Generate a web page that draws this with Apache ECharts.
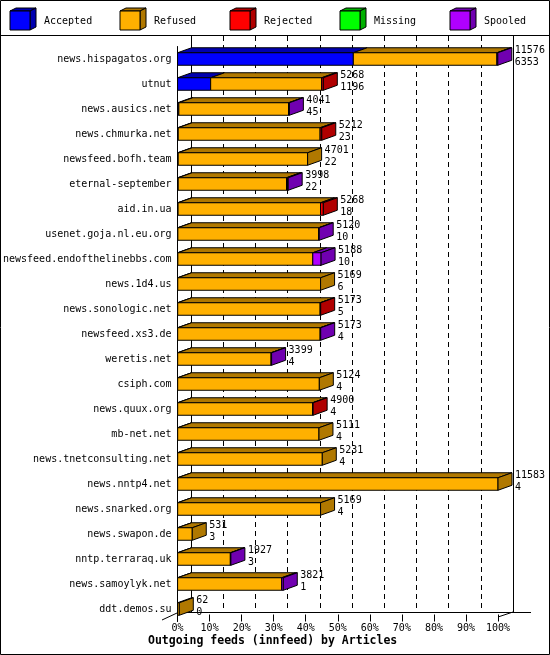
<!DOCTYPE html>
<html>
<head>
<meta charset="utf-8">
<script src="https://cdn.jsdelivr.net/npm/echarts@6/dist/echarts.min.js"></script>
<style>
  html, body { margin: 0; padding: 0; background: #fff; }
  #chart { width: 550px; height: 655px; }
</style>
</head>
<body>
<div id="chart"></div>
<script>
// innfeed outgoing feeds, articles per peer
const hosts = [
  'news.hispagatos.org', 'utnut', 'news.ausics.net', 'news.chmurka.net',
  'newsfeed.bofh.team', 'eternal-september', 'aid.in.ua', 'usenet.goja.nl.eu.org',
  'newsfeed.endofthelinebbs.com', 'news.1d4.us', 'news.sonologic.net', 'newsfeed.xs3.de',
  'weretis.net', 'csiph.com', 'news.quux.org', 'mb-net.net',
  'news.tnetconsulting.net', 'news.nntp4.net', 'news.snarked.org', 'news.swapon.de',
  'nntp.terraraq.uk', 'news.samoylyk.net', 'ddt.demos.su'
];
const totals   = [11576, 5268, 4041, 5212, 4701, 3998, 5268, 5120, 5188, 5169, 5173, 5173,
                  3399, 5124, 4900, 5111, 5231, 11583, 5169, 531, 1927, 3821, 62];
const accepted = [6353, 1196, 45, 23, 22, 22, 18, 10, 10, 6, 5, 4,
                  4, 4, 4, 4, 4, 4, 4, 3, 3, 1, 0];
const refused  = [5190, 4012, 3966, 5129, 4679, 3916, 5150, 5090, 4878, 5163, 5148, 5149,
                  3375, 5120, 4876, 5107, 5227, 11579, 5165, 528, 1904, 3760, 62];
const rejected = [0, 60, 0, 60, 0, 40, 100, 0, 0, 0, 20, 0,
                  0, 0, 20, 0, 0, 0, 0, 0, 0, 0, 0];
const missing  = [0, 0, 0, 0, 0, 0, 0, 0, 0, 0, 0, 0,
                  0, 0, 0, 0, 0, 0, 0, 0, 0, 0, 0];
const spooled  = [33, 0, 30, 0, 0, 20, 0, 20, 300, 0, 0, 20,
                  20, 0, 0, 0, 0, 0, 0, 0, 20, 60, 0];
const tickLabels = ['0%', '10%', '20%', '30%', '40%', '50%', '60%', '70%', '80%', '90%', '100%'];

const seriesNames = ['Accepted', 'Refused', 'Rejected', 'Missing', 'Spooled'];
const frontColors = ['#0000ff', '#ffb000', '#ff0000', '#00ff00', '#b000ff'];
const darkColors  = ['#0000b0', '#b07800', '#b00000', '#00b000', '#7000b0'];

const FONT = '"DejaVu Sans Mono", monospace';
const DX = 14, DY = 5;
const chart = echarts.init(document.getElementById('chart'));

const segs = [accepted, refused, rejected, missing, spooled];
const maxTotal = Math.max(...totals);

// one data list per segment type: [row, startPct, endPct, isLast]
function buildSegments() {
  const out = segs.map(() => []);
  hosts.forEach((h, row) => {
    let lastIdx = -1;
    segs.forEach((arr, s) => { if (arr[row] > 0) lastIdx = s; });
    let acc = 0;
    segs.forEach((arr, s) => {
      const v = arr[row];
      if (v > 0) {
        out[s].push([row, acc / maxTotal * 100, (acc + v) / maxTotal * 100, s === lastIdx ? 1 : 0]);
      }
      acc += v;
    });
  });
  return out;
}

function barRenderer(s) {
  return function (params, api) {
    const row = api.value(0);
    const p0 = api.coord([api.value(1), row]);
    const p1 = api.coord([api.value(2), row]);
    const h = api.size([0, 1])[1] * 0.5;
    const x0 = p0[0], x1 = p1[0], y0 = p0[1] - h / 2, y1 = p0[1] + h / 2;
    const line = { stroke: '#000', lineWidth: 1 };
    const children = [
      { type: 'polygon', shape: { points: [[x0, y0], [x1, y0], [x1 + DX, y0 - DY], [x0 + DX, y0 - DY]] },
        style: Object.assign({ fill: darkColors[s] }, line) },
      { type: 'rect', shape: { x: x0, y: y0, width: x1 - x0, height: h },
        style: Object.assign({ fill: frontColors[s] }, line) }
    ];
    if (api.value(3) === 1) {
      children.push({ type: 'polygon',
        shape: { points: [[x1, y0], [x1 + DX, y0 - DY], [x1 + DX, y1 - DY], [x1, y1]] },
        style: Object.assign({ fill: darkColors[s] }, line) });
    }
    return { type: 'group', children: children };
  };
}

const segData = buildSegments();
const series = seriesNames.map((name, s) => ({
  name: name,
  type: 'custom',
  xAxisIndex: 0,
  yAxisIndex: 0,
  renderItem: barRenderer(s),
  data: segData[s],
  z: 3
}));

series.push({
  name: 'labels',
  type: 'custom',
  xAxisIndex: 0,
  yAxisIndex: 0,
  z: 4,
  data: hosts.map((h, row) => [row, totals[row] / maxTotal * 100, totals[row], accepted[row]]),
  renderItem: function (params, api) {
    const p = api.coord([api.value(1), api.value(0)]);
    return {
      type: 'text',
      style: {
        text: api.value(2) + '\n' + api.value(3),
        x: p[0] + DX + 3,
        y: p[1] - 3,
        fill: '#000',
        font: '10px ' + FONT,
        lineHeight: 12,
        verticalAlign: 'middle',
        align: 'left'
      }
    };
  }
});

// legend drawn as small cubes
const legendItems = [];
seriesNames.forEach((name, i) => {
  const x = 10 + 110 * i, y = 11, w = 20, hh = 19, dx = 6, dy = 3;
  legendItems.push(
    { type: 'polygon', shape: { points: [[x, y], [x + w, y], [x + w + dx, y - dy], [x + dx, y - dy]] },
      style: { fill: darkColors[i], stroke: '#000', lineWidth: 1 } },
    { type: 'polygon', shape: { points: [[x + w, y], [x + w + dx, y - dy], [x + w + dx, y + hh - dy], [x + w, y + hh]] },
      style: { fill: darkColors[i], stroke: '#000', lineWidth: 1 } },
    { type: 'rect', shape: { x: x, y: y, width: w, height: hh },
      style: { fill: frontColors[i], stroke: '#000', lineWidth: 1 } },
    { type: 'text', x: x + 34, y: 21,
      style: { text: name, fill: '#000', font: '10px ' + FONT, verticalAlign: 'middle' } }
  );
});

const frame = { stroke: '#000', lineWidth: 1 };
const graphics = legendItems.concat([
  { type: 'rect', shape: { x: 0.5, y: 0.5, width: 549, height: 654 }, style: { fill: 'none', stroke: '#000', lineWidth: 1 }, z: 10 },
  { type: 'line', shape: { x1: 0, y1: 35.5, x2: 550, y2: 35.5 }, style: frame },
  { type: 'line', shape: { x1: 177, y1: 612.5, x2: 531, y2: 612.5 }, style: frame },
  { type: 'line', shape: { x1: 162, y1: 620, x2: 177, y2: 613 }, style: frame },
  { type: 'line', shape: { x1: 498, y1: 617, x2: 513, y2: 612 }, style: frame }
]);

chart.setOption({
  animation: false,
  backgroundColor: '#fff',
  title: {
    text: 'Outgoing feeds (innfeed) by Articles',
    left: 148,
    top: 635,
    padding: 0,
    textStyle: { fontFamily: FONT, fontSize: 11.5, fontWeight: 'bold', color: '#000' }
  },
  grid: [
    { left: 177, right: 52, top: 46.5, height: 575 },
    { left: 191, right: 37, top: 36, bottom: 43 }
  ],
  xAxis: [
    {
      gridIndex: 0, type: 'value', min: 0, max: 100, interval: 10,
      axisLine: { show: false },
      axisTick: { show: true, inside: true, length: 7, lineStyle: { color: '#000' } },
      splitLine: { show: false },
      axisLabel: {
        margin: 2, color: '#000', fontFamily: FONT, fontSize: 10,
        formatter: (v) => tickLabels[Math.round(v / 10)]
      }
    },
    {
      gridIndex: 1, type: 'value', min: 0, max: 100, interval: 10,
      axisLine: { show: false }, axisTick: { show: false }, axisLabel: { show: false },
      splitLine: { show: true, lineStyle: { color: '#000', width: 1, type: [5, 4] } }
    }
  ],
  yAxis: [
    {
      gridIndex: 0, type: 'category', data: hosts, inverse: true,
      axisLine: { show: true, lineStyle: { color: '#000' } },
      axisTick: { show: false },
      axisLabel: { margin: 6, color: '#000', fontFamily: FONT, fontSize: 10 }
    },
    {
      gridIndex: 1, type: 'value', min: 0, max: 1, position: 'left',
      axisLine: { show: true, lineStyle: { color: '#000' } },
      axisTick: { show: false }, axisLabel: { show: false }, splitLine: { show: false }
    },
    {
      gridIndex: 1, type: 'value', min: 0, max: 1, position: 'right',
      axisLine: { show: true, lineStyle: { color: '#000' } },
      axisTick: { show: false }, axisLabel: { show: false }, splitLine: { show: false }
    }
  ],
  graphic: graphics,
  series: series
});
</script>
</body>
</html>
